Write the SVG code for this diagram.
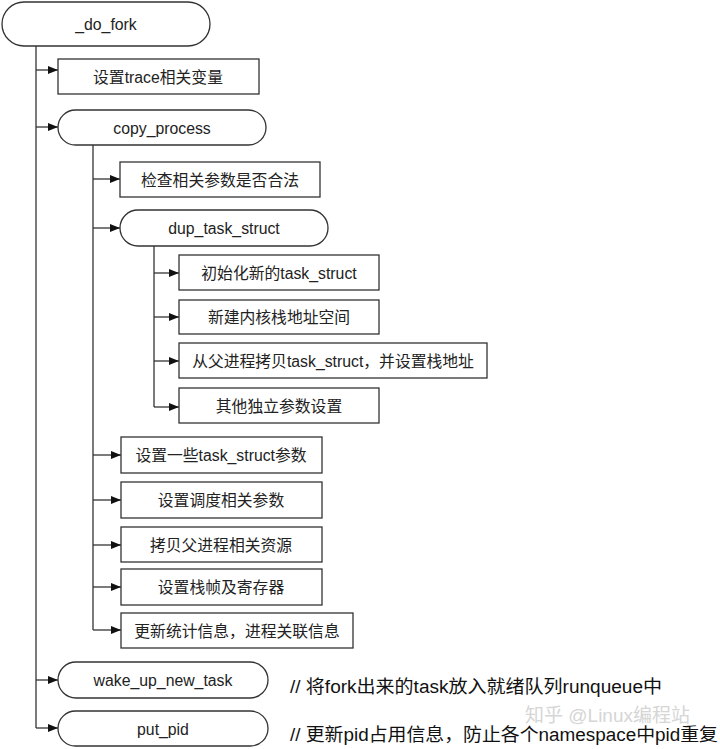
<svg xmlns="http://www.w3.org/2000/svg" width="720" height="749" viewBox="0 0 720 749">
<style>
.shape{fill:#fff;stroke:#333;stroke-width:1.3}
.line{fill:none;stroke:#333;stroke-width:1.3}
.t{font-family:"Liberation Sans","Noto Sans CJK SC",sans-serif;font-size:15.8px;fill:#222;text-anchor:middle;dominant-baseline:central}
.c{font-family:"Liberation Sans","Noto Sans CJK SC",sans-serif;font-size:18px;fill:#111}
.wm{font-family:"Liberation Sans","Noto Sans CJK SC",sans-serif;font-size:19px;fill:#ccc;opacity:0.8}
</style>
<defs>
<marker id="arr" markerWidth="10" markerHeight="8" refX="10" refY="4" orient="auto" markerUnits="userSpaceOnUse">
<path d="M0,0 L10,4 L0,8 Z" fill="#111"/>
</marker>
</defs>
<rect width="720" height="749" fill="#fff"/>
<g id="connectors">
<path class="line" d="M36,46 V728"/>
<path class="line" d="M36,70 H58" marker-end="url(#arr)"/>
<path class="line" d="M36,127 H58" marker-end="url(#arr)"/>
<path class="line" d="M36,680 H58" marker-end="url(#arr)"/>
<path class="line" d="M36,728 H58" marker-end="url(#arr)"/>
<path class="line" d="M93,145 V630"/>
<path class="line" d="M93,179 H120" marker-end="url(#arr)"/>
<path class="line" d="M93,228 H120" marker-end="url(#arr)"/>
<path class="line" d="M93,455 H121" marker-end="url(#arr)"/>
<path class="line" d="M93,500 H121" marker-end="url(#arr)"/>
<path class="line" d="M93,545 H121" marker-end="url(#arr)"/>
<path class="line" d="M93,587 H121" marker-end="url(#arr)"/>
<path class="line" d="M93,630 H121" marker-end="url(#arr)"/>
<path class="line" d="M154,246 V407"/>
<path class="line" d="M154,273 H179" marker-end="url(#arr)"/>
<path class="line" d="M154,317 H179" marker-end="url(#arr)"/>
<path class="line" d="M154,361 H179" marker-end="url(#arr)"/>
<path class="line" d="M154,407 H179" marker-end="url(#arr)"/>
</g>
<g id="do_fork"><rect class="shape" x="2" y="2" width="208" height="44" rx="22"/><text class="t" x="106" y="24">_do_fork</text></g>
<g id="trace"><rect class="shape" x="58" y="59" width="201" height="35"/><text class="t" x="158" y="77">设置trace相关变量</text></g>
<g id="copy_process"><rect class="shape" x="58" y="110" width="208" height="35" rx="17.5"/><text class="t" x="162" y="128">copy_process</text></g>
<g id="check"><rect class="shape" x="120" y="162" width="200" height="35"/><text class="t" x="220" y="180">检查相关参数是否合法</text></g>
<g id="dup_task_struct"><rect class="shape" x="120" y="210" width="208" height="36" rx="18"/><text class="t" x="224" y="228">dup_task_struct</text></g>
<g id="init"><rect class="shape" x="179" y="255" width="200" height="35"/><text class="t" x="279" y="273">初始化新的task_struct</text></g>
<g id="kstack"><rect class="shape" x="179" y="300" width="200" height="34"/><text class="t" x="279" y="317">新建内核栈地址空间</text></g>
<g id="copyts"><rect class="shape" x="179" y="343" width="308" height="35"/><text class="t" x="333" y="361">从父进程拷贝task_struct，并设置栈地址</text></g>
<g id="other"><rect class="shape" x="179" y="388" width="200" height="35"/><text class="t" x="279" y="406">其他独立参数设置</text></g>
<g id="setts"><rect class="shape" x="121" y="437" width="201" height="36"/><text class="t" x="221" y="455">设置一些task_struct参数</text></g>
<g id="sched"><rect class="shape" x="121" y="482" width="201" height="36"/><text class="t" x="221" y="500">设置调度相关参数</text></g>
<g id="res"><rect class="shape" x="121" y="527" width="201" height="35"/><text class="t" x="221" y="545">拷贝父进程相关资源</text></g>
<g id="frame"><rect class="shape" x="121" y="569" width="201" height="36"/><text class="t" x="221" y="587">设置栈帧及寄存器</text></g>
<g id="stat"><rect class="shape" x="121" y="613" width="232" height="35"/><text class="t" x="237" y="631">更新统计信息，进程关联信息</text></g>
<g id="wake"><rect class="shape" x="58" y="662" width="210" height="36" rx="18"/><text class="t" x="163" y="680">wake_up_new_task</text></g>
<g id="put_pid"><rect class="shape" x="58" y="711" width="210" height="35" rx="17.5"/><text class="t" x="163" y="729">put_pid</text></g>
<text class="c" x="290" y="693" textLength="372" lengthAdjust="spacingAndGlyphs">// 将fork出来的task放入就绪队列runqueue中</text>
<text class="wm" x="525" y="722">知乎 @Linux编程站</text>
<text class="c" x="290" y="741" textLength="428" lengthAdjust="spacingAndGlyphs">// 更新pid占用信息，防止各个namespace中pid重复</text>
</svg>
